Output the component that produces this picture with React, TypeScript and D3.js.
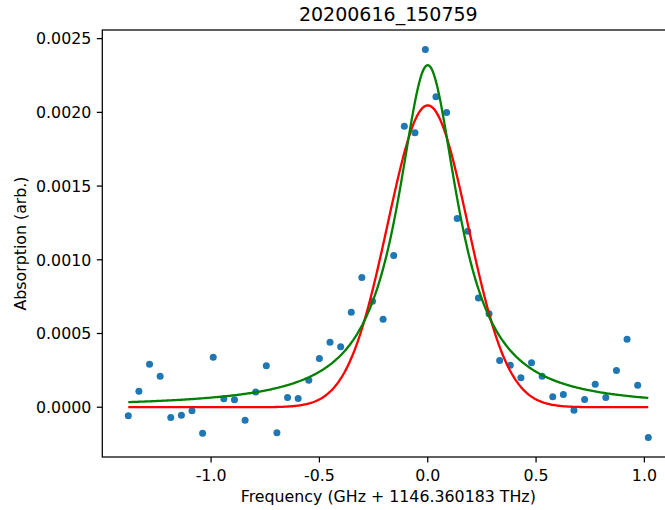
import React from "react";
import * as d3 from "d3";

const W = 665;
const H = 510;

const title = "20200616_150759";
const xLabel = "Frequency (GHz + 1146.360183 THz)";
const yLabel = "Absorption (arb.)";

const xTicks = [-1.0, -0.5, 0.0, 0.5, 1.0];
const xTickLabels = ["-1.0", "-0.5", "0.0", "0.5", "1.0"];
const yTicks = [0, 0.0005, 0.001, 0.0015, 0.002, 0.0025];
const yTickLabels = ["0.0000", "0.0005", "0.0010", "0.0015", "0.0020", "0.0025"];

const freq = [
  -1.382, -1.333, -1.284, -1.235, -1.186, -1.137, -1.088, -1.039, -0.990, -0.941,
  -0.892, -0.843, -0.794, -0.745, -0.696, -0.647, -0.598, -0.549, -0.500, -0.451,
  -0.402, -0.353, -0.304, -0.255, -0.206, -0.157, -0.108, -0.059, -0.011, 0.038,
  0.087, 0.136, 0.185, 0.234, 0.283, 0.332, 0.381, 0.430, 0.479, 0.528,
  0.577, 0.626, 0.675, 0.724, 0.773, 0.822, 0.871, 0.920, 0.969, 1.018,
];

const absorption = [
  -0.000058, 0.000109, 0.000292, 0.00021, -0.00007, -0.000054, -0.000024, -0.000176, 0.000339, 0.000057,
  0.00005, -0.000088, 0.000104, 0.000281, -0.000174, 0.000066, 0.000059, 0.000183, 0.00033, 0.000441,
  0.00041, 0.000645, 0.00088, 0.000719, 0.000597, 0.001029, 0.001906, 0.001862, 0.002427, 0.002106,
  0.001999, 0.00128, 0.001194, 0.00074, 0.000634, 0.000317, 0.000285, 0.0002, 0.000301, 0.00021,
  0.000071, 0.000086, -0.00002, 0.000052, 0.000156, 0.000066, 0.000249, 0.000461, 0.000149, -0.000206,
];

// Fit parameters (Gaussian in red, Lorentzian in green)
const gaussAmp = 0.002047;
const gaussCenter = 0.0;
const gaussSigma = 0.185;
const gaussOffset = 0.0;
const lorAmp = 0.00232;
const lorCenter = 0.0;
const lorGamma = 0.17;
const lorOffset = 0.0;

const gauss = (x: number) =>
  gaussOffset + gaussAmp * Math.exp(-((x - gaussCenter) ** 2) / (2 * gaussSigma * gaussSigma));
const lor = (x: number) =>
  lorOffset + (lorAmp * lorGamma * lorGamma) / ((x - lorCenter) ** 2 + lorGamma * lorGamma);

export default function App() {
  const left = 102.3;
  const right = 674.3;
  const top = 30;
  const bottom = 457;

  const xMin = d3.min(freq)!;
  const xMax = d3.max(freq)!;
  const yMin = d3.min(absorption)!;
  const yMax = d3.max(absorption)!;
  const xm = (xMax - xMin) * 0.05;
  const ym = (yMax - yMin) * 0.05;

  const x = d3.scaleLinear().domain([xMin - xm, xMax + xm]).range([left, right]);
  const y = d3.scaleLinear().domain([yMin - ym, yMax + ym]).range([bottom, top]);

  const curveX = d3.range(0, 401).map((i) => xMin + ((xMax - xMin) * i) / 400);
  const gPath =
    d3
      .line<number>()
      .x((d) => x(d))
      .y((d) => y(gauss(d)))(curveX) || "";
  const lPath =
    d3
      .line<number>()
      .x((d) => x(d))
      .y((d) => y(lor(d)))(curveX) || "";

  const font = "'DejaVu Sans', sans-serif";
  const tickLen = 5.5;
  const fs = 15.8;

  return (
    <div style={{ position: "absolute", left: 0, top: 0 }}>
      <svg width={W} height={H} style={{ display: "block", background: "#fff" }}>
        <rect x={0} y={0} width={W} height={H} fill="#fff" />
        <defs>
          <clipPath id="plotclip">
            <rect x={left} y={top} width={right - left} height={bottom - top} />
          </clipPath>
        </defs>
        <g clipPath="url(#plotclip)">
          {freq.map((f, i) => (
            <circle key={i} cx={x(f)} cy={y(absorption[i])} r={3.5} fill="#1f77b4" />
          ))}
          <path d={gPath} fill="none" stroke="#ff0000" strokeWidth={2.3} />
          <path d={lPath} fill="none" stroke="#008000" strokeWidth={2.3} />
        </g>
        <rect
          x={left}
          y={top}
          width={right - left}
          height={bottom - top}
          fill="none"
          stroke="#000"
          strokeWidth={1.25}
        />
        {xTicks.map((t, i) => (
          <g key={i}>
            <line x1={x(t)} x2={x(t)} y1={bottom} y2={bottom + tickLen} stroke="#000" strokeWidth={1.25} />
            <text
              x={x(t)}
              y={480.5}
              textAnchor="middle"
              fontFamily={font}
              fontSize={fs}
              fill="#000"
            >
              {xTickLabels[i]}
            </text>
          </g>
        ))}
        {yTicks.map((t, i) => (
          <g key={i}>
            <line x1={left - tickLen} x2={left} y1={y(t)} y2={y(t)} stroke="#000" strokeWidth={1.25} />
            <text
              x={left - 11}
              y={y(t) + 5.8}
              textAnchor="end"
              fontFamily={font}
              fontSize={fs}
              fill="#000"
            >
              {yTickLabels[i]}
            </text>
          </g>
        ))}
        <text
          x={(left + right) / 2}
          y={20.8}
          textAnchor="middle"
          fontFamily={font}
          fontSize={19}
          fill="#000"
        >
          {title}
        </text>
        <text
          x={(left + right) / 2}
          y={502}
          textAnchor="middle"
          fontFamily={font}
          fontSize={fs}
          fill="#000"
        >
          {xLabel}
        </text>
        <text
          transform={`translate(26, ${(top + bottom) / 2}) rotate(-90)`}
          textAnchor="middle"
          fontFamily={font}
          fontSize={fs}
          fill="#000"
        >
          {yLabel}
        </text>
      </svg>
    </div>
  );
}
